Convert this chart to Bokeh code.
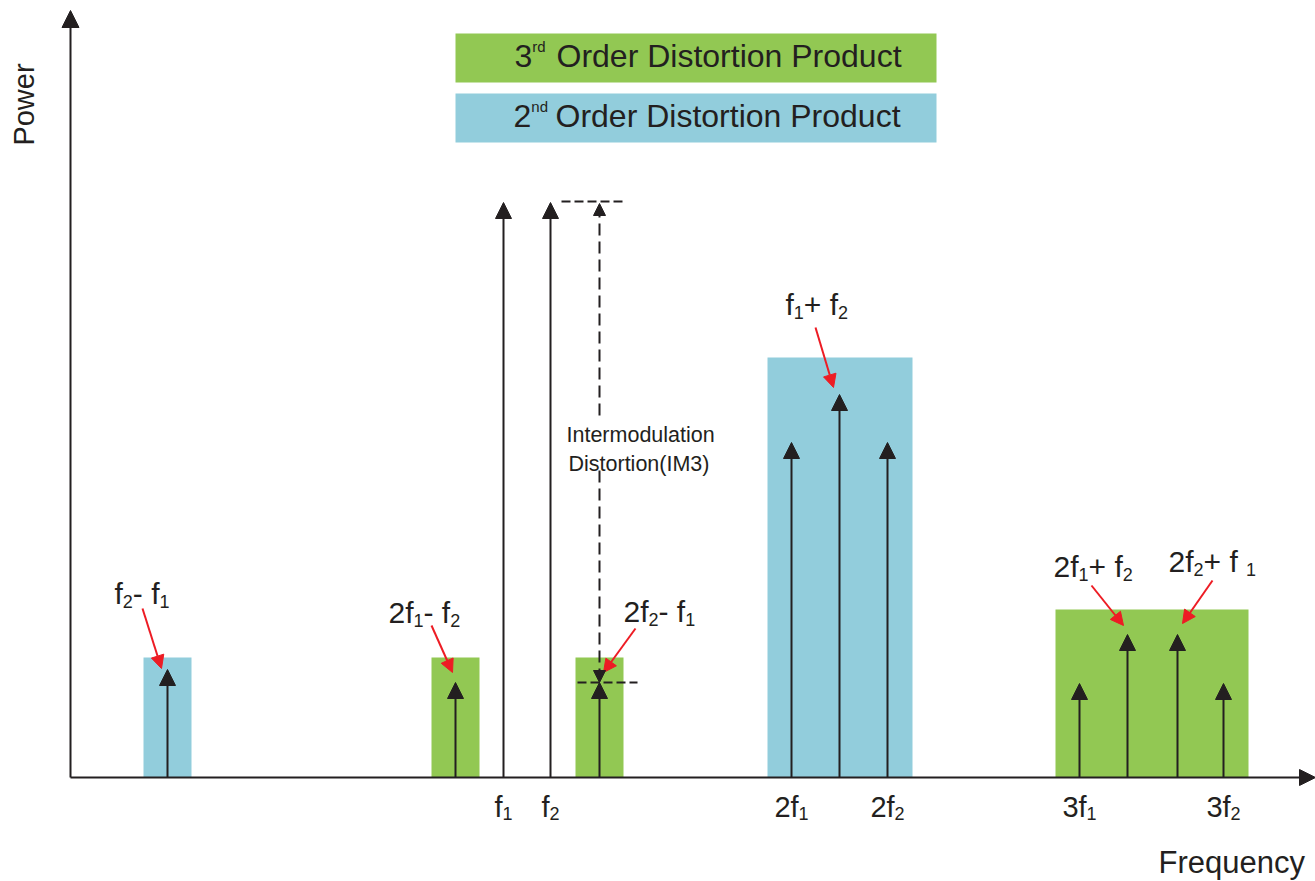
from bokeh.plotting import figure
from bokeh.models import Range1d, ColumnDataSource, Arrow, NormalHead
from bokeh.core.properties import value, field
from bokeh.embed import file_html
from bokeh.resources import INLINE
import math

# ---------------- data (schematic units: frequency position, power level) ----
tone_names = ["f2-f1", "2f1-f2", "f1", "f2", "2f2-f1", "2f1", "f1+f2", "2f2",
              "3f1", "2f1+f2", "2f2+f1", "3f2"]
tone_freq = [97, 385, 433, 480, 529, 721, 769, 817, 1009, 1057, 1107, 1153]
tone_power = [108, 95, 575, 575, 95, 335, 383, 335, 94, 143, 143, 94]

band_order = ["2nd", "3rd", "3rd", "2nd", "3rd"]
band_left = [73, 361, 505, 697, 985]
band_right = [121, 409, 553, 842, 1178]
band_top = [120, 120, 120, 420, 168]

tick_names = ["f1", "f2", "2f1", "2f2", "3f1", "3f2"]
tick_text = ["f_1", "f_2", "2f_1", "2f_2", "3f_1", "3f_2"]

prod_names = ["f2-f1", "2f1-f2", "2f2-f1", "f1+f2", "2f1+f2", "2f2+f1"]
prod_text = ["f_2- f_1", "2f_1- f_2", "2f_2- f_1", "f_1+ f_2", "2f_1+ f_2", "2f_2+ f _1"]
prod_label_x = [44, 318, 553, 715, 983, 1098]
prod_label_y = [173, 154, 155, 462, 200, 205]
prod_arrow_from = [(72, 169), (361, 152), (565, 149), (745, 450), (1021, 192), (1142, 197)]
prod_arrow_to = [(91, 109), (382, 105), (533, 105), (763, 390), (1053, 152), (1112, 154)]

legend_order = ["3rd", "2nd"]
legend_num = ["3", "2"]
legend_sup = ["rd", "nd"]

# ---------------- style ----------------
INK = "#231F20"
RED = "#ED1C24"
GREEN = "#92C853"
BLUE = "#92CDDC"
FONT = "Liberation Sans"
BASE_FIX = 0.37  # baseline correction (em) for the SVG text renderer

W = {'0': 556, '1': 556, '2': 556, '3': 556, 'f': 278, ' ': 278, '-': 333, '+': 584,
     'r': 333, 'd': 556, 'n': 556}

def tw(t, size):
    return sum(W.get(c, 556) for c in t) / 1000.0 * size

def parse(markup):
    out = []
    i = 0
    buf = ""
    while i < len(markup):
        c = markup[i]
        if c == "_":
            if buf:
                out.append((buf, "main"))
                buf = ""
            out.append((markup[i + 1], "sub"))
            i += 2
        else:
            buf += c
            i += 1
    if buf:
        out.append((buf, "main"))
    return out

rows = dict(x=[], y=[], text=[], fs=[])

def place(pieces, x0, y0, main=30, sub=18, sup=15, align="left", sub_dy=-4, sup_dy=15):
    sizes = {"main": main, "sub": sub, "sup": sup}
    widths = [tw(t, sizes[k]) for t, k in pieces]
    x = x0 - (sum(widths) / 2.0 if align == "center" else 0)
    for (t, k), w in zip(pieces, widths):
        dy = {"main": 0, "sub": sub_dy, "sup": sup_dy}[k]
        lead = len(t) - len(t.lstrip(" "))
        rows["x"].append(x + tw(" " * lead, sizes[k]))
        rows["y"].append(y0 + dy + BASE_FIX * sizes[k])
        rows["text"].append(t.lstrip(" "))
        rows["fs"].append("%.1fpx" % sizes[k])
        x += w

# ---------------- figure (1 data unit = 1 screen pixel) ----------------
p = figure(width=1315, height=881, x_range=Range1d(-70, 1245), y_range=Range1d(-104, 777),
           output_backend="svg", toolbar_location=None, min_border=0,
           x_axis_type=None, y_axis_type=None)
p.grid.visible = False
p.outline_line_color = None
p.background_fill_color = "white"
p.border_fill_color = "white"

# distortion bands
band_src = ColumnDataSource(dict(left=band_left, right=band_right, top=band_top,
                                 bottom=[0] * len(band_top),
                                 color=[GREEN if o == "3rd" else BLUE for o in band_order]))
p.quad(left="left", right="right", top="top", bottom="bottom", fill_color="color",
       line_color=None, source=band_src)

# legend boxes
leg_top = [744, 684]
leg_src = ColumnDataSource(dict(left=[385, 385], right=[866, 866], top=leg_top,
                                bottom=[t - 49 for t in leg_top],
                                color=[GREEN if o == "3rd" else BLUE for o in legend_order]))
p.quad(left="left", right="right", top="top", bottom="bottom", fill_color="color",
       line_color=None, source=leg_src)
for num, sup, top, x0 in zip(legend_num, legend_sup, leg_top, [444, 443]):
    place([(num, "main"), (sup, "sup")], x0, top - 34, main=32, sup=15, sup_dy=15)
    place([("Order Distortion Product", "main")], x0 + 42, top - 34, main=32)

# tone arrows
idx = {n: i for i, n in enumerate(tone_names)}
tone_src = ColumnDataSource(dict(x=tone_freq, y0=[0] * len(tone_freq), y1=tone_power))
p.add_layout(Arrow(x_start="x", y_start="y0", x_end="x", y_end="y1", source=tone_src,
                   line_color=INK, line_width=2,
                   end=NormalHead(size=16, fill_color=INK, line_color=INK, line_width=1)))

# axes
p.add_layout(Arrow(x_start=0, y_start=0, x_end=0, y_end=767, line_color=INK, line_width=2,
                   end=NormalHead(size=17, fill_color=INK, line_color=INK, line_width=1)))
p.add_layout(Arrow(x_start=0, y_start=0, x_end=1245, y_end=0, line_color=INK, line_width=2,
                   end=NormalHead(size=16, fill_color=INK, line_color=INK, line_width=1)))

# tick labels
for n, t in zip(tick_names, tick_text):
    place(parse(t), tone_freq[idx[n]], -40, main=29, sub=18, align="center", sub_dy=-3)

# product labels and red pointer arrows
for n, t, lx, ly in zip(prod_names, prod_text, prod_label_x, prod_label_y):
    place(parse(t), lx, ly, main=30, sub=18, sub_dy=-4)
red_src = ColumnDataSource(dict(x0=[a[0] for a in prod_arrow_from], y0=[a[1] for a in prod_arrow_from],
                                x1=[a[0] for a in prod_arrow_to], y1=[a[1] for a in prod_arrow_to]))
p.add_layout(Arrow(x_start="x0", y_start="y0", x_end="x1", y_end="y1", source=red_src,
                   line_color=RED, line_width=2,
                   end=NormalHead(size=13, fill_color=RED, line_color=RED, line_width=1)))

# IM3 measurement
xim = tone_freq[idx["2f2-f1"]]
p_top = tone_power[idx["f1"]]
p_bot = tone_power[idx["2f2-f1"]]
p.segment(x0=[xim - 38, xim - 22], y0=[p_top + 1, p_bot], x1=[xim + 23, xim + 38],
          y1=[p_top + 1, p_bot], line_color=INK, line_width=2, line_dash="9 4")
p.add_layout(Arrow(x_start=xim, y_start=362, x_end=xim, y_end=p_top - 1, line_color=INK,
                   line_width=2, line_dash="12 6",
                   end=NormalHead(size=12, fill_color=INK, line_color=INK, line_width=1)))
p.add_layout(Arrow(x_start=xim, y_start=307, x_end=xim, y_end=p_bot, line_color=INK,
                   line_width=2, line_dash="12 6",
                   end=NormalHead(size=12, fill_color=INK, line_color=INK, line_width=1)))
place([("Intermodulation", "main")], 496, 335, main=21.5)
place([("Distortion(IM3)", "main")], 498, 306, main=21.5)

# axis titles
place([("Frequency", "main")], 1088, -96, main=31)

txt_src = ColumnDataSource(rows)
p.text(x="x", y="y", text="text", text_font_size=field("fs"), text_font=value(FONT),
       text_color=INK, text_align="left", text_baseline="alphabetic", source=txt_src)
p.text(x=[-36 - BASE_FIX * 29], y=[673], text=["Power"], angle=math.pi / 2, text_font_size="29px",
       text_font=value(FONT), text_color=INK, text_align="center", text_baseline="alphabetic")

open("out.html", "w").write(file_html(p, INLINE))
